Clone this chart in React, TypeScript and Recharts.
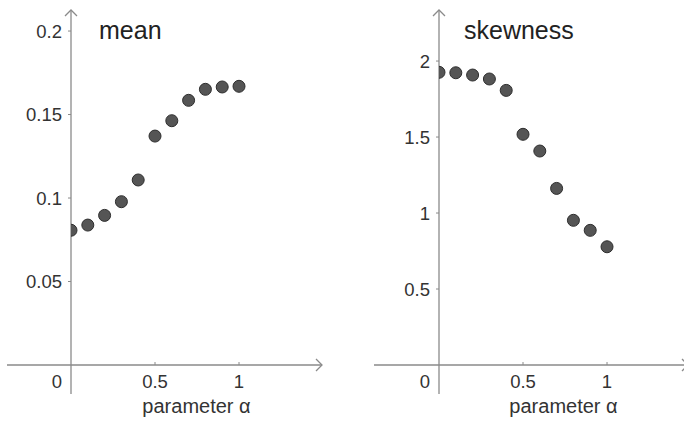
import { ReferenceDot, ReferenceLine, Scatter, ScatterChart, XAxis, YAxis } from "recharts";

// values
const alpha = [0, 0.1, 0.2, 0.3, 0.4, 0.5, 0.6, 0.7, 0.8, 0.9, 1];
const meanValues = [0.0807, 0.0838, 0.0896, 0.0978, 0.1108, 0.1371, 0.1463, 0.1585, 0.1651, 0.1665, 0.1669];
const skewnessValues = [1.926, 1.923, 1.908, 1.882, 1.807, 1.518, 1.408, 1.162, 0.952, 0.886, 0.778];
const xTicks = [0, 0.5, 1];
const meanTicks = [0.05, 0.1, 0.15, 0.2];
const skewnessTicks = [0.5, 1, 1.5, 2];

const AXIS = "#8a8a8a";
const INK = "#333";
const FONT = "'Liberation Sans', Arial, sans-serif";

const meanData = alpha.map((x, i) => ({ x, y: meanValues[i] }));
const skewnessData = alpha.map((x, i) => ({ x, y: skewnessValues[i] }));

function Dot(p: any) {
  return <circle cx={p.cx} cy={p.cy} r={6} fill="#555" stroke="#2e2e2e" strokeWidth={1} />;
}

// x ticks: small mark above the axis, origin label pushed to the left
function XTick({ x, y, payload }: any) {
  const v = payload.value;
  return (
    <g>
      {v !== 0 && <line x1={x} x2={x} y1={y - 10} y2={y - 13} stroke={AXIS} />}
      <text x={v === 0 ? x - 14 : x} y={y} dy="0.71em" textAnchor="middle" fontSize={18.5} fill={INK} fontFamily={FONT}>
        {v}
      </text>
    </g>
  );
}

type PanelProps = {
  data: { x: number; y: number }[];
  yTicks: number[];
  width: number;
  yAxisWidth: number;
  rightMargin: number;
  xMin: number;
  xMax: number;
  yMin: number;
  yMax: number;
};

function Panel({ data, yTicks, width, yAxisWidth, rightMargin, xMin, xMax, yMin, yMax }: PanelProps) {
  return (
    <ScatterChart width={width} height={422} margin={{ top: 10, right: rightMargin, bottom: 0, left: 0 }}>
      <XAxis
        type="number"
        dataKey="x"
        domain={[0, xMax]}
        ticks={xTicks}
        allowDataOverflow
        axisLine={false}
        tickLine={false}
        tickSize={0}
        tickMargin={10}
        height={57}
        tick={<XTick />}
        label={{ value: "parameter α", position: "insideBottom", offset: 9, fontSize: 20, fill: INK, fontFamily: FONT }}
      />
      <YAxis
        type="number"
        dataKey="y"
        domain={[0, yMax]}
        ticks={yTicks}
        allowDataOverflow
        axisLine={false}
        tickLine={{ stroke: AXIS }}
        tickSize={3}
        tickMargin={6}
        width={yAxisWidth}
        tick={{ fontSize: 18.5, fill: INK, fontFamily: FONT }}
      />
      <ReferenceLine segment={[{ x: xMin, y: 0 }, { x: xMax, y: 0 }]} stroke={AXIS} strokeWidth={1.3} ifOverflow="visible" />
      <ReferenceLine segment={[{ x: 0, y: yMin }, { x: 0, y: yMax }]} stroke={AXIS} strokeWidth={1.3} ifOverflow="visible" />
      <ReferenceDot
        x={xMax}
        y={0}
        ifOverflow="visible"
        shape={(p: any) => (
          <path d={`M${p.cx - 6},${p.cy - 6}L${p.cx},${p.cy}L${p.cx - 6},${p.cy + 6}`} fill="none" stroke={AXIS} strokeWidth={1.3} />
        )}
      />
      <ReferenceDot
        x={0}
        y={yMax}
        ifOverflow="visible"
        shape={(p: any) => (
          <path d={`M${p.cx - 6},${p.cy + 6}L${p.cx},${p.cy}L${p.cx + 6},${p.cy + 6}`} fill="none" stroke={AXIS} strokeWidth={1.3} />
        )}
      />
      <Scatter data={data} shape={<Dot />} isAnimationActive={false} />
    </ScatterChart>
  );
}

const titleStyle = {
  position: "absolute" as const,
  top: 18,
  fontSize: 25,
  lineHeight: 1,
  color: "#222",
  fontFamily: FONT,
};

export default function App() {
  return (
    <div style={{ position: "absolute", top: 0, left: 0, width: 684, height: 422, overflow: "hidden", background: "#fff" }}>
      <div style={{ position: "absolute", left: 0, top: 0 }}>
        <Panel
          data={meanData}
          yTicks={meanTicks}
          width={342}
          yAxisWidth={71}
          rightMargin={20}
          xMin={-0.381}
          xMax={1.494}
          yMin={-0.0174}
          yMax={0.2126}
        />
      </div>
      <div style={{ position: "absolute", left: 342, top: 0 }}>
        <Panel
          data={skewnessData}
          yTicks={skewnessTicks}
          width={350}
          yAxisWidth={97}
          rightMargin={4}
          xMin={-0.387}
          xMax={1.482}
          yMin={-0.191}
          yMax={2.336}
        />
      </div>
      <div style={{ ...titleStyle, left: 99 }}>mean</div>
      <div style={{ ...titleStyle, left: 464 }}>skewness</div>
    </div>
  );
}
